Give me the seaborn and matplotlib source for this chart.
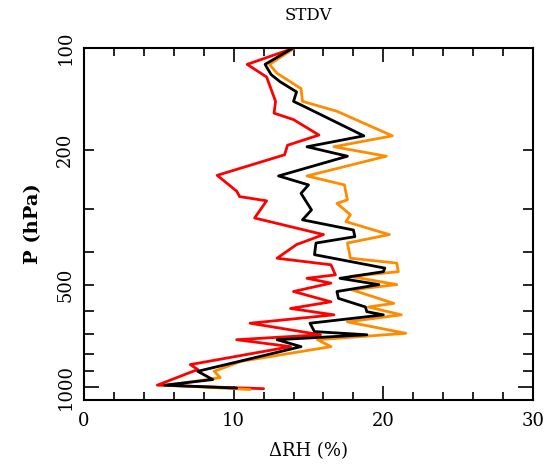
import numpy as np
import pandas as pd
import matplotlib
matplotlib.use("Agg")
import matplotlib.pyplot as plt
from matplotlib.ticker import FixedLocator, FixedFormatter
import seaborn as sns

p_red = [100, 112, 122, 144, 156, 163, 181, 194, 207, 238, 265, 275, 283, 318,
         356, 381, 418, 437, 468, 479, 495, 524, 562, 588, 614, 650, 703, 727,
         762, 861, 890, 990, 1014]
rh_red = [14.1, 10.9, 12.2, 12.8, 12.7, 14.0, 15.7, 13.6, 13.4, 8.9, 10.2, 10.4,
          12.2, 11.4, 16.0, 14.2, 12.9, 16.5, 16.8, 14.9, 16.5, 14.0, 16.5, 13.8,
          16.7, 11.1, 15.8, 10.2, 13.8, 7.1, 7.6, 4.9, 12.0]

p_black = [100, 112, 120, 126, 135, 144, 149, 182, 196, 209, 239, 254, 269, 301,
           322, 345, 361, 377, 408, 447, 458, 479, 500, 524, 549, 582, 601, 614,
           650, 688, 703, 727, 762, 901, 953, 990, 1010]
rh_black = [14.0, 12.1, 12.5, 13.1, 14.2, 14.0, 14.7, 18.7, 14.9, 17.6, 13.0, 15.0,
            14.5, 15.2, 14.6, 18.0, 18.1, 15.5, 15.4, 20.1, 20.0, 17.1, 19.7, 16.9,
            17.0, 18.8, 18.9, 20.0, 15.1, 15.4, 18.9, 12.9, 14.5, 7.6, 8.6, 5.4, 10.2]

p_orange = [100, 112, 119, 132, 144, 154, 182, 196, 209, 239, 254, 281, 288, 311,
            326, 356, 377, 418, 432, 458, 473, 500, 518, 568, 582, 614, 644, 696,
            727, 762, 842, 901, 941, 990, 1020]
rh_orange = [14.1, 12.4, 12.9, 14.5, 14.6, 16.9, 20.6, 16.7, 20.2, 14.9, 17.4, 17.6,
             16.9, 17.8, 17.5, 20.4, 17.6, 17.8, 20.9, 21.0, 17.8, 20.9, 17.9, 20.7,
             19.0, 21.2, 17.6, 21.5, 15.6, 16.5, 10.5, 8.7, 9.1, 5.6, 11.1]

title = "STDV"
xlabel = "\u0394RH (%)"
ylabel = "P (hPa)"

sns.set_style("ticks")
plt.rcParams["font.family"] = ["DejaVu Serif", "DejaVu Sans"]
plt.rcParams.update({"text.color": "black", "axes.labelcolor": "black",
                     "xtick.color": "black", "ytick.color": "black",
                     "axes.edgecolor": "black"})

fig = plt.figure(figsize=(5.49, 4.72), dpi=100)
ax = fig.add_axes([84/549, 1 - 400/472, (533-84)/549, (400-47.7)/472])

for p, rh, c in [(p_red, rh_red, "#ff0000"),
                 (p_orange, rh_orange, "#ff8c00"),
                 (p_black, rh_black, "#000000")]:
    df = pd.DataFrame({"P": p, "RH": rh})
    sns.lineplot(data=df, x="RH", y="P", orient="y", estimator=None, sort=False,
                 color=c, lw=2.0, ax=ax)

ax.set_yscale("log")
ax.set_ylim(1095, 100)
ax.set_xlim(0, 30)

ax.yaxis.set_major_locator(FixedLocator([100, 1000]))
ax.yaxis.set_major_formatter(FixedFormatter(["100", "1000"]))
ax.yaxis.set_minor_locator(FixedLocator([200, 300, 400, 500, 600, 700, 800, 900]))
ax.yaxis.set_minor_formatter(FixedFormatter(["200", "", "", "500", "", "", "", ""]))
ax.set_xticks([0, 10, 20, 30])
ax.set_xticks(np.arange(0, 31, 2), minor=True)

ax.tick_params(axis="both", which="both", direction="in", top=True, right=True,
               width=1.2, labelsize=13, colors="black")
ax.tick_params(axis="x", which="major", length=10, pad=9)
ax.tick_params(axis="x", which="minor", length=6, labelbottom=False)
ax.tick_params(axis="y", which="major", length=11, pad=7)
ax.tick_params(axis="y", which="minor", length=7, pad=7)
for lab in ax.get_yticklabels(which="both"):
    lab.set_rotation(90)
    lab.set_va("center")
for sp in ax.spines.values():
    sp.set_linewidth(1.5)
    sp.set_color("black")

ax.set_xlabel(xlabel, fontsize=13, labelpad=8, color="black")
ax.set_ylabel(ylabel, fontsize=14, labelpad=10, color="black", fontweight="bold")
fig.text((84+533)/2/549, 1 - 16/472, title, ha="center", va="center", fontsize=12,
         color="black")

fig.savefig("out.png", dpi=100)
